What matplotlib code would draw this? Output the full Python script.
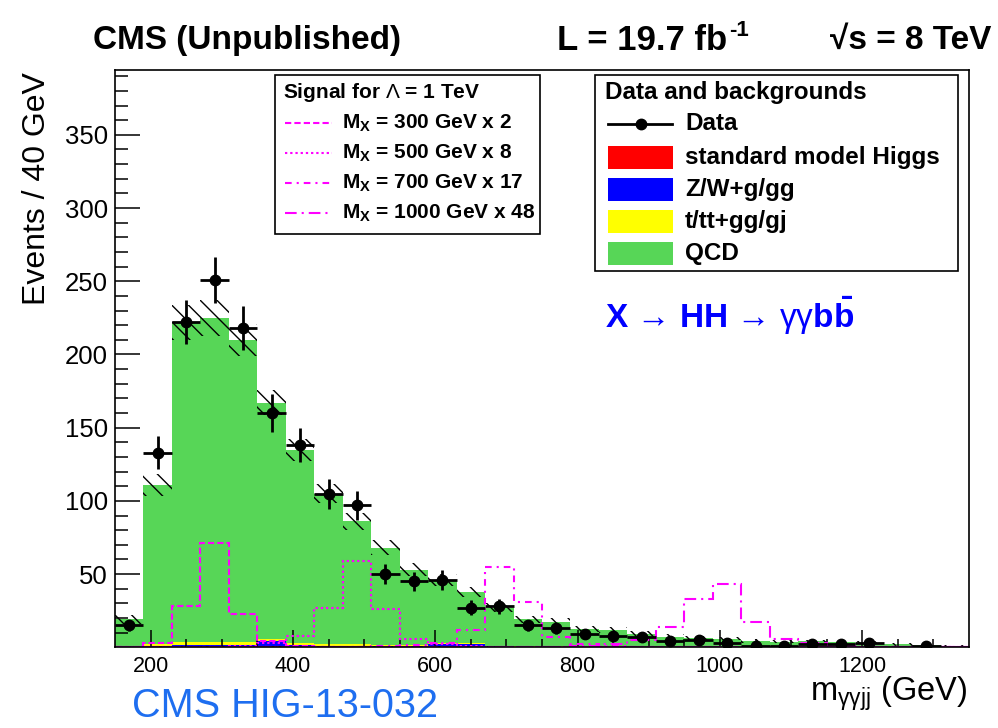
import numpy as np
import matplotlib
matplotlib.use('Agg')
import matplotlib.pyplot as plt
from matplotlib.lines import Line2D
from matplotlib.patches import Rectangle

plt.rcParams['font.family'] = ['Liberation Sans', 'DejaVu Sans']
plt.rcParams['mathtext.fontset'] = 'custom'
plt.rcParams['mathtext.rm'] = 'Liberation Sans'
plt.rcParams['mathtext.bf'] = 'Liberation Sans:bold'
plt.rcParams['mathtext.it'] = 'Liberation Sans:italic'
plt.rcParams['mathtext.sf'] = 'Liberation Sans'
plt.rcParams['hatch.linewidth'] = 1.0

# m_ggjj bins: 40 GeV wide from 150 to 1350
bin_lo, bin_w, nbins = 150, 40, 30
edges = bin_lo + bin_w * np.arange(nbins + 1)
centers = edges[:-1] + bin_w / 2

data = np.array([15, 133, 222, 251, 218, 160, 138, 105, 97, 50,
                 45, 46, 27, 28, 15, 13, 9, 8, 7, 4,
                 5, 3, 1, 1, 2, 2, 3, 0, 1, 0])

# total background (top of the green stack) and its uncertainty
total_bkg = np.array([19, 111, 222, 225, 210, 167, 135, 105, 86, 68,
                      53, 46, 38, 27, 19, 17.5, 12.3, 11.8, 9, 7.3,
                      6.1, 6, 4.3, 3.8, 4, 3.5, 3, 2, 1.5, 1])
bkg_err = np.array([3, 7.5, 12, 12.5, 11, 8.5, 7.5, 6.5, 6, 5,
                    4.5, 4, 3.5, 3, 2.5, 2.5, 2, 2, 1.8, 1.5,
                    1.4, 1.3, 1.2, 1.1, 1.1, 1, 1, 0.8, 0.7, 0.6])

sm_higgs = np.array([0.5, 0.8, 1, 1, 1, 1, 0.8, 0.8, 0.6, 0.5,
                     0.5, 0.5, 0.4, 0.3, 0.3, 0.2, 0.2, 0.2, 0.1, 0.1,
                     0.1, 0.1, 0.1, 0.1, 0.1, 0.1, 0.1, 0.1, 0.1, 0.1])
zw_jets = np.array([0.2, 0.3, 0.4, 0.4, 0.5, 3, 0.5, 0.4, 0.4, 0.3,
                    0.3, 2, 2, 0.3, 0.2, 0.2, 0.1, 0.1, 0.1, 0.1,
                    0.1, 0.1, 0.1, 0.1, 0, 0, 0, 0, 0, 0])
top_bkg = np.array([0.3, 1, 2.5, 2.5, 2, 2, 1.5, 1, 1, 1,
                    0.8, 0.5, 0.5, 0.4, 0.3, 0.3, 0.2, 0.2, 0.2, 0.2,
                    0.1, 0.1, 0.1, 0.1, 0.1, 0.1, 0.1, 0.1, 0, 0])
qcd = total_bkg - sm_higgs - zw_jets - top_bkg

# signal shapes as drawn (already multiplied by the legend factors)
sig300 = np.array([0, 3, 28, 71, 23, 4, 1, 0.5, 0, 0,
                   0, 0, 0, 0, 0, 0, 0, 0, 0, 0,
                   0, 0, 0, 0, 0, 0, 0, 0, 0, 0])
sig500 = np.array([0, 0, 0, 0, 1, 3, 8, 27, 59, 26,
                   6, 2, 1, 0, 0, 0, 0, 0, 0, 0,
                   0, 0, 0, 0, 0, 0, 0, 0, 0, 0])
sig700 = np.array([0, 0, 0, 0, 0, 0, 0, 0, 0.5, 1,
                   1.5, 3, 12, 55, 31, 7, 2, 1, 0.5, 0,
                   0, 0, 0, 0, 0, 0, 0, 0, 0, 0])
sig1000 = np.array([0, 0, 0, 0, 0, 0, 0, 0, 0, 0,
                    0, 0, 0, 0, 0, 0.5, 1, 2, 5, 14,
                    33, 43, 17, 6, 3, 1, 0.5, 0, 0, 0])

green = '#57d657'
magenta = '#ff00ff'

fig = plt.figure(figsize=(9.98, 7.28), dpi=100)
W, H = 998.0, 728.0
ax = fig.add_axes([115 / W, 1 - 647.3 / H, (969 - 115) / W, (647.3 - 69.5) / H])


def fp(x, y):
    return x / W, 1 - y / H


# stacked backgrounds
base = np.zeros(nbins)
for vals, col in [(sm_higgs, '#ff0000'), (zw_jets, '#0000ff'),
                  (top_bkg, '#ffff00'), (qcd, green)]:
    ax.stairs(base + vals, edges, baseline=base, fill=True, color=col,
              linewidth=0, zorder=1)
    base = base + vals

# uncertainty band
ax.bar(edges[:-1], 2 * bkg_err, bottom=total_bkg - bkg_err, width=bin_w,
       align='edge', fill=False, hatch='\\\\', edgecolor='black',
       linewidth=0, zorder=1.5)

# signals
sig_styles = [(sig300, (3, 1.5)), (sig500, (1.1, 1.4)),
              (sig700, (3.2, 2.4, 1, 2.4)), (sig1000, (5.6, 2.4, 1, 2.4))]
for vals, dash in sig_styles:
    ax.stairs(vals, edges, color=magenta, linewidth=1.5,
              linestyle=(0, dash), zorder=2)

# data
m = data > 0
ax.errorbar(centers[m], data[m], yerr=np.sqrt(data[m]), xerr=bin_w / 2,
            fmt='o', color='black', ms=7.5, elinewidth=2, capsize=0, zorder=3)

ax.set_xlim(150, 1350)
ax.set_ylim(0, 394.6)
ax.set_xticks([200, 400, 600, 800, 1000, 1200])
ax.set_xticks(np.arange(200, 1350, 50), minor=True)
ax.set_yticks([50, 100, 150, 200, 250, 300, 350])
ax.set_yticks(np.arange(10, 394, 10), minor=True)
ax.tick_params(axis='x', which='major', direction='in', length=12, width=1.1,
               labelsize=15.5, pad=6)
ax.tick_params(axis='x', which='minor', direction='in', length=6, width=1.1)
ax.tick_params(axis='y', which='major', direction='in', length=18, width=1.1,
               labelsize=18.5, pad=5)
ax.tick_params(axis='y', which='minor', direction='in', length=9.5, width=1.1)
for s in ax.spines.values():
    s.set_linewidth(1.2)

fig.text(*fp(37, 72), 'Events / 40 GeV', rotation=90, ha='center', va='top',
         fontsize=23)
fig.text(*fp(967, 694), r'm$_{\mathrm{\gamma\gamma jj}}$ (GeV)', ha='right',
         va='center', fontsize=23.5)

# header
fig.text(*fp(93, 40), 'CMS (Unpublished)', fontsize=24, fontweight='bold',
         va='center')
fig.text(*fp(557, 40), 'L = 19.7 fb', fontsize=25, fontweight='bold',
         va='center')
fig.text(*fp(729, 30), '-1', fontsize=16, fontweight='bold', va='center')
fig.text(*fp(830, 40), '\u221as = 8 TeV', fontsize=24, fontweight='bold',
         va='center')

fig.text(*fp(605, 316),
         r'X → HH → $\mathrm{\gamma\gamma}\mathbf{b\bar{b}}$',
         color='#0000ff', fontsize=24, fontweight='bold', va='center')
fig.text(*fp(132, 706), 'CMS HIG-13-032', color='#1e6ef0', fontsize=28.5,
         va='center')

# signal legend
fig.add_artist(Rectangle(fp(275, 234), 265 / W, 159 / H, transform=fig.transFigure,
                         facecolor='white', edgecolor='black', linewidth=1.2))
fig.text(*fp(283, 92), r'Signal for $\mathrm{\Lambda}$ = 1 TeV', fontsize=15,
         fontweight='bold', va='center')
sig_labels = ['300 GeV x 2', '500 GeV x 8', '700 GeV x 17', '1000 GeV x 48']
for i, ((vals, dash), lab) in enumerate(zip(sig_styles, sig_labels)):
    y = 123.3 + 30 * i
    fig.add_artist(Line2D([285 / W, 332 / W], [1 - y / H, 1 - y / H],
                          transform=fig.transFigure, color=magenta,
                          linewidth=1.5, linestyle=(0, dash)))
    fig.text(*fp(342, y), r'$\mathbf{M_{X}}$ = ' + lab, fontsize=15,
             fontweight='bold', va='center')

# data / background legend
fig.add_artist(Rectangle(fp(595, 271), 363 / W, 196 / H, transform=fig.transFigure,
                         facecolor='white', edgecolor='black', linewidth=1.2))
fig.text(*fp(605, 92), 'Data and backgrounds', fontsize=17.5,
         fontweight='bold', va='center')
fig.add_artist(Line2D([608 / W, 672 / W], [1 - 124 / H, 1 - 124 / H],
                      transform=fig.transFigure, color='black', linewidth=2))
fig.add_artist(Line2D([640.7 / W], [1 - 124 / H], transform=fig.transFigure,
                      color='black', marker='o', ms=7.5, linestyle='none'))
fig.text(*fp(685, 124), 'Data', fontsize=17.5, fontweight='bold', va='center')
bkg_entries = [('#ff0000', 'standard model Higgs'), ('#0000ff', 'Z/W+g/gg'),
               ('#ffff00', 't/tt+gg/gj'), (green, 'QCD')]
for i, (col, lab) in enumerate(bkg_entries):
    y = 157.3 + 32.2 * i
    fig.add_artist(Rectangle(fp(608, y + 11.5), 65 / W, 23 / H,
                             transform=fig.transFigure, facecolor=col,
                             edgecolor='none'))
    fig.text(*fp(685, y), lab, fontsize=17.5, fontweight='bold', va='center')

fig.savefig('out.png', dpi=100)
